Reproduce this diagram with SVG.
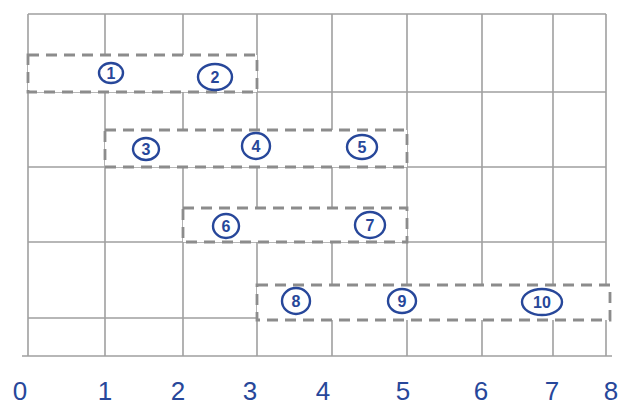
<svg xmlns="http://www.w3.org/2000/svg" width="630" height="416" viewBox="0 0 630 416">
<style>
.grid{stroke:#a0a0a0;stroke-width:1.6;fill:none}
.box{fill:#ffffff;stroke:#8c8c8c;stroke-width:2.8;stroke-dasharray:11 7}
.ring{fill:none;stroke:#27479a;stroke-width:2.4}
.num{font-family:"Liberation Sans",Arial,sans-serif;fill:#27479a;text-anchor:middle}
.lbl{font-size:16px;font-weight:bold}
.axis{font-size:26px}
</style>
<rect width="630" height="416" fill="#ffffff"/>
<g id="grid">
<path class="grid" d="M28 14H606M28 92H606M28 167H606M28 242H606M28 318H606M22 356H612"/>
<path class="grid" d="M28 14V356M105 14V356M183 14V356M257 14V356M332 14V356M407 14V356M482 14V356M553 14V356M606 14V356"/>
</g>
<g id="boxes">
<rect class="box" x="28" y="55" width="229" height="37"/>
<rect class="box" x="105" y="130" width="302" height="37"/>
<rect class="box" x="183" y="208" width="224" height="34"/>
<rect class="box" x="257" y="285" width="353" height="35"/>
</g>
<g id="connectors"></g>
<g id="n1"><ellipse class="ring" cx="111" cy="73" rx="12" ry="10"/><text class="num lbl" x="111" y="79">1</text></g>
<g id="n2"><ellipse class="ring" cx="215" cy="77" rx="17" ry="13"/><text class="num lbl" x="215" y="83">2</text></g>
<g id="n3"><ellipse class="ring" cx="146" cy="149" rx="13" ry="11"/><text class="num lbl" x="146" y="155">3</text></g>
<g id="n4"><ellipse class="ring" cx="256" cy="146" rx="14" ry="13"/><text class="num lbl" x="256" y="152">4</text></g>
<g id="n5"><ellipse class="ring" cx="362" cy="147" rx="15" ry="12"/><text class="num lbl" x="362" y="153">5</text></g>
<g id="n6"><ellipse class="ring" cx="226" cy="226" rx="13" ry="12"/><text class="num lbl" x="226" y="232">6</text></g>
<g id="n7"><ellipse class="ring" cx="370" cy="225" rx="15" ry="13"/><text class="num lbl" x="370" y="231">7</text></g>
<g id="n8"><ellipse class="ring" cx="296" cy="301" rx="14" ry="13"/><text class="num lbl" x="296" y="307">8</text></g>
<g id="n9"><ellipse class="ring" cx="402" cy="301" rx="14" ry="12"/><text class="num lbl" x="402" y="307">9</text></g>
<g id="n10"><ellipse class="ring" cx="542" cy="302" rx="20" ry="13"/><text class="num lbl" x="542" y="308">10</text></g>
<g id="axis">
<text class="num axis" x="20" y="400">0</text>
<text class="num axis" x="105" y="400">1</text>
<text class="num axis" x="178" y="400">2</text>
<text class="num axis" x="250" y="400">3</text>
<text class="num axis" x="323" y="400">4</text>
<text class="num axis" x="403" y="400">5</text>
<text class="num axis" x="481" y="400">6</text>
<text class="num axis" x="552" y="400">7</text>
<text class="num axis" x="611" y="400">8</text>
</g>
</svg>
